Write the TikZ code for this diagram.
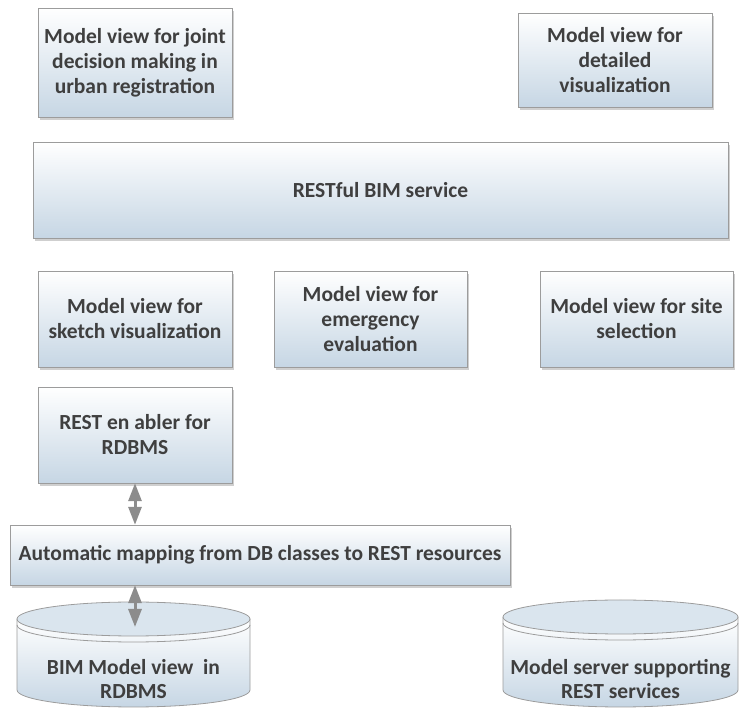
\documentclass[tikz,border=0pt]{standalone}
\usepackage{fontspec}
\setmainfont{Carlito}
\usetikzlibrary{arrows.meta,shadows}
\definecolor{boxtext}{HTML}{3F3F3F}
\definecolor{boxblue}{HTML}{C6D6E4}
\definecolor{boxline}{HTML}{9C9C9C}
\definecolor{lidblue}{HTML}{DAE5EE}
\tikzset{
	viewbox/.style={rectangle, draw=boxline, top color=white, bottom color=boxblue, drop shadow={shadow xshift=2pt, shadow yshift=-3pt, fill=gray!75}, text=boxtext, font=\fontsize{21.5}{25}\selectfont\bfseries, align=center, inner sep=0pt},
	dbtext/.style={text=boxtext, font=\fontsize{21.5}{24}\selectfont\bfseries, align=center, inner sep=0pt},
	dbline/.style={draw=boxline, line width=0.8pt},
	linkarrow/.style={{Triangle[width=13pt,length=18pt]}-{Triangle[width=13pt,length=18pt]}, line width=3pt, draw=gray!90}
}
\begin{document}
\begin{tikzpicture}[x=1pt, y=1pt]
		\useasboundingbox (0,0) rectangle (740,710);
		
		\node[viewbox, minimum width=194pt, minimum height=109pt] (joint) at (135,647.5) {Model view for joint\\decision making in\\urban registration};
		\node[viewbox, minimum width=194pt, minimum height=94pt] (detail) at (615,650) {Model view for\\detailed\\visualization};
		\node[viewbox, minimum width=695pt, minimum height=96pt] (bimservice) at (380.5,520) {RESTful BIM service};
		
		\node[viewbox, minimum width=194pt, minimum height=96pt] (sketch) at (135,391) {Model view for\\sketch visualization};
		\node[viewbox, minimum width=193pt, minimum height=96pt] (emergency) at (370.5,391) {Model view for\\emergency\\evaluation};
		\node[viewbox, minimum width=193pt, minimum height=96pt] (site) at (636.5,391) {Model view for site\\selection};
		\node[viewbox, minimum width=194pt, minimum height=96pt] (enabler) at (135,275) {REST en abler for\\RDBMS};
		\node[viewbox, minimum width=500pt, minimum height=60pt] (mapping) at (260,155) {Automatic mapping from DB classes to REST resources};
		
		\shade[top color=white, bottom color=boxblue] (17,91) -- (17,20) arc[start angle=180, end angle=360, x radius=116.5, y radius=17] -- (250,91) -- cycle;
		\draw[dbline] (17,91) -- (17,20) arc[start angle=180, end angle=360, x radius=116.5, y radius=17] -- (250,91);
		\draw[dbline, fill=lidblue] (133.5,91) ellipse[x radius=116.5, y radius=17];
		\draw[dbline] (17,85) arc[start angle=180, end angle=360, x radius=116.5, y radius=17];
		\node[dbtext] (bimdb) at (133.5,31) {BIM Model view\ \ in\\RDBMS};
		
		\shade[top color=white, bottom color=boxblue] (503,93) -- (503,20) arc[start angle=180, end angle=360, x radius=117.5, y radius=17] -- (738,93) -- cycle;
		\draw[dbline] (503,93) -- (503,20) arc[start angle=180, end angle=360, x radius=117.5, y radius=17] -- (738,93);
		\draw[dbline, fill=lidblue] (620.5,93) ellipse[x radius=117.5, y radius=17];
		\draw[dbline] (503,87) arc[start angle=180, end angle=360, x radius=117.5, y radius=17];
		\node[dbtext] (serverdb) at (620.5,31) {Model server supporting\\REST services};
		
		\coordinate (bimtop) at (135,83);
		\draw[linkarrow] (enabler.south) -- (enabler.south |- mapping.north);
		\draw[linkarrow] (mapping.south -| bimtop) -- (bimtop);
	\end{tikzpicture}
\end{document}
